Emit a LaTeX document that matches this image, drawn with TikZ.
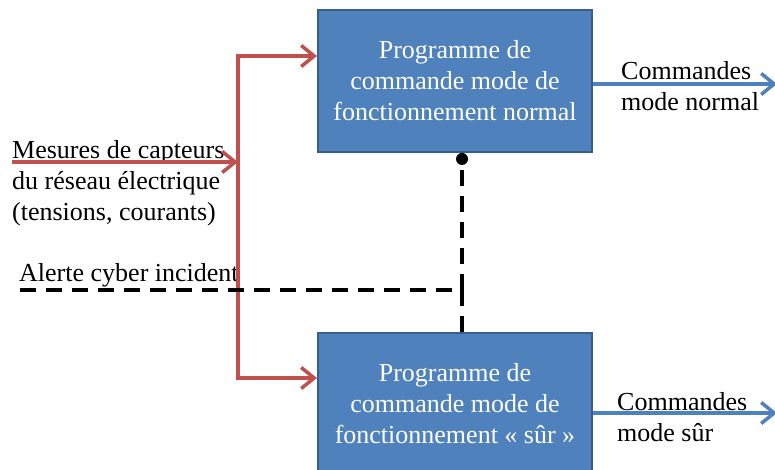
\documentclass[tikz,border=0pt]{standalone}
\usepackage{fontspec}
\setmainfont{Liberation Serif}
\usepackage{xcolor}
\usetikzlibrary{arrows.meta,positioning}
\definecolor{progblue}{HTML}{4F81BD}
\definecolor{progedge}{HTML}{385D8A}
\definecolor{measred}{HTML}{C0504D}
\newcommand{\pptfont}{\fontsize{26}{31}\selectfont}

\begin{document}
\begin{tikzpicture}[x=1pt, y=-1pt,
  prog/.style={draw=progedge, line width=2pt, fill=progblue, text=white,
    minimum width=274pt, minimum height=142pt, align=center, font=\pptfont},
  txt/.style={inner sep=0pt, align=left, font=\pptfont},
  measline/.style={draw=measred, line width=3.5pt,
    -{Straight Barb[length=13pt, width=21pt]}},
  cmdline/.style={draw=progblue, line width=3.5pt,
    -{Straight Barb[length=13pt, width=21pt]}},
  alertline/.style={draw=black, line width=4pt, dash pattern=on 16pt off 10pt}]
  \useasboundingbox (0,0) rectangle (775,470);
  \clip (0,0) rectangle (775,470);

  % the two control programs
  \node[prog] (normal) at (455,81) {Programme de\\commande mode de\\fonctionnement normal};
  \node[prog, anchor=north] (sur) at (455,332) {Programme de\\commande mode de\\fonctionnement « sûr »};

  % texts
  \node[txt, anchor=north west] (mesures) at (12,140)
    {Mesures de capteurs\\du réseau électrique\\(tensions, courants)};
  \node[txt, anchor=base west] (alerte) at (19,281) {Alerte cyber incident};
  \node[txt, anchor=north west] (cmdnormal) at (621,61) {Commandes\\mode normal};
  \node[txt, anchor=north west] (cmdsur) at (617,392) {Commandes\\mode sûr};

  \coordinate (in) at (12,162);
  \coordinate (fork) at (238,162);
  \coordinate (cyber) at (20,290);
  \coordinate (bend) at (462,290);
  \coordinate (outnormal) at (777,84);
  \coordinate (outsur) at (777,413);

  % measurements to both programs
  \draw[measline] (in) -- (fork);
  \draw[measline] (fork) |- ([yshift=-47pt]normal.north west);
  \draw[measline] (fork) |- ([yshift=-46pt]sur.north west);

  % cyber alert
  \draw[alertline] (cyber) -- (bend) -- (bend |- normal.south);
  \fill ([yshift=-6pt]bend |- normal.south) circle (6pt);
  \draw[alertline] (bend) -- (bend |- sur.north);

  % commands
  \draw[cmdline] (normal.east |- outnormal) -- (outnormal);
  \draw[cmdline] (sur.east |- outsur) -- (outsur);
\end{tikzpicture}
\end{document}
